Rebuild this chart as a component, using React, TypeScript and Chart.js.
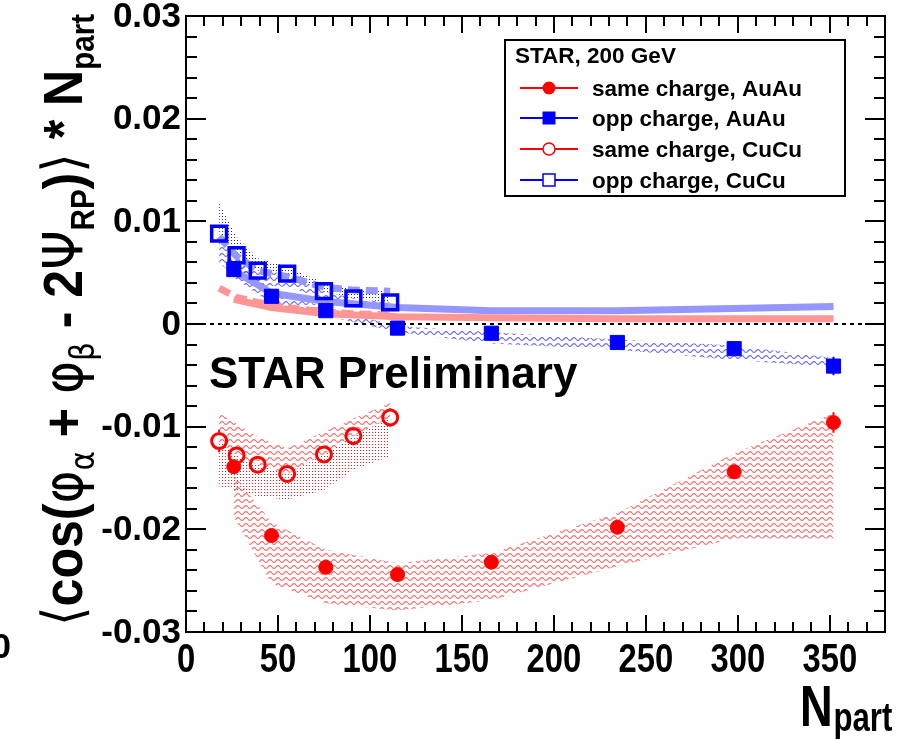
import React, { useEffect, useRef } from 'react';
import { Chart, registerables } from 'chart.js';
Chart.register(...registerables);

const W = 899;
const H = 740;

// ---------- data ----------
const auauNpart = [26, 46.5, 76, 115, 166, 234.5, 298, 352];
const cucuNpart = [18, 27.5, 39, 55, 75, 91, 111];

const sameAuAu = [-0.0139, -0.0206, -0.0237, -0.0244, -0.0232, -0.0198, -0.0144, -0.0096];
const sameAuAuErr = [0.0006, 0.0005, 0.0005, 0.0005, 0.0005, 0.0005, 0.0006, 0.001];
const sameAuAuSysHi = [-0.0147, -0.0193, -0.022, -0.0233, -0.0223, -0.0184, -0.0126, -0.0087];
const sameAuAuSysLo = [-0.0188, -0.0253, -0.0272, -0.0279, -0.0269, -0.0236, -0.0209, -0.0209];

const oppAuAu = [0.0053, 0.0027, 0.0013, -0.0004, -0.0009, -0.0018, -0.0024, -0.0041];
const oppAuAuErr = [0.0004, 0.0003, 0.0003, 0.0003, 0.0003, 0.0004, 0.0005, 0.0009];
const oppAuAuSysHi = [0.007, 0.0033, 0.0016, -0.0002, -0.0008, -0.0015, -0.0021, -0.0033];
const oppAuAuSysLo = [0.0045, 0.002, 0.0008, -0.0008, -0.0019, -0.0025, -0.0035, -0.0042];

const sameCuCu = [-0.0114, -0.0128, -0.0137, -0.0146, -0.0127, -0.0109, -0.0091];
const sameCuCuErr = [0.0011, 0.0008, 0.0008, 0.0008, 0.0008, 0.0009, 0.0009];
const sameCuCuSysHi = [-0.0087, -0.0097, -0.011, -0.0121, -0.0105, -0.0092, -0.0077];
const sameCuCuSysLo = [-0.0158, -0.0162, -0.0168, -0.0171, -0.0162, -0.0142, -0.0129];

const oppCuCu = [0.0088, 0.0067, 0.0052, 0.0049, 0.0032, 0.0025, 0.0021];
const oppCuCuErr = [0.0008, 0.0007, 0.0006, 0.0006, 0.0006, 0.0006, 0.0006];
const oppCuCuSysHi = [0.0118, 0.0085, 0.0064, 0.0056, 0.004, 0.0034, 0.0034];
const oppCuCuSysLo = [0.006, 0.0045, 0.0038, 0.0036, 0.0025, 0.002, 0.0018];

const bkgSameAuAu = [0.0024, 0.0016, 0.001, 0.0007, 0.0006, 0.0005, 0.0005, 0.0005];
const bkgOppAuAu = [0.0052, 0.003, 0.0022, 0.0016, 0.0013, 0.0013, 0.0015, 0.0017];
const bkgSameCuCu = [0.0035, 0.0026, 0.0021, 0.0016, 0.0012, 0.001, 0.0009];
const bkgOppCuCu = [0.0085, 0.0066, 0.0052, 0.0046, 0.0036, 0.0033, 0.0032];

const xTickLabels = ['0', '50', '100', '150', '200', '250', '300', '350'];
const yTickLabels = ['0.03', '0.02', '0.01', '0', '-0.01', '-0.02', '-0.03'];
const legendTitle = 'STAR, 200 GeV';
const legendLabels = ['same charge, AuAu', 'opp charge, AuAu', 'same charge, CuCu', 'opp charge, CuCu'];

// ---------- styles ----------
const RED = '#ff0000';
const BLUE = '#0000ff';
const fontB = (s: number) => `bold ${s}px "Liberation Sans", Arial, sans-serif`;
const fontG = (s: number) => `${s}px "DejaVu Sans", sans-serif`;

const pts = (xs: number[], ys: number[]) => xs.map((x, i) => ({ x, y: ys[i] }));

function makeWavy(color: string) {
  const c = document.createElement('canvas');
  c.width = 8;
  c.height = 6;
  const g = c.getContext('2d')!;
  g.strokeStyle = color;
  g.lineWidth = 1.1;
  g.beginPath();
  for (let i = 0; i <= 8; i += 0.5) {
    const y = 3 + 1.4 * Math.sin((2 * Math.PI * i) / 8);
    if (i === 0) g.moveTo(i, y);
    else g.lineTo(i, y);
  }
  g.stroke();
  return g.createPattern(c, 'repeat')!;
}

function makeDots(color: string) {
  const c = document.createElement('canvas');
  c.width = 3;
  c.height = 3;
  const g = c.getContext('2d')!;
  g.fillStyle = color;
  g.fillRect(0, 0, 1, 1);
  return g.createPattern(c, 'repeat')!;
}

function drawMarker(ctx: CanvasRenderingContext2D, kind: string, x: number, y: number, color: string) {
  ctx.save();
  ctx.fillStyle = color;
  ctx.strokeStyle = color;
  if (kind === 'fc') {
    ctx.beginPath();
    ctx.arc(x, y, 6.5, 0, Math.PI * 2);
    ctx.fill();
  } else if (kind === 'fs') {
    ctx.fillRect(x - 6.5, y - 6.5, 13, 13);
  } else if (kind === 'oc') {
    ctx.lineWidth = 1.5;
    ctx.beginPath();
    ctx.arc(x, y, 6, 0, Math.PI * 2);
    ctx.stroke();
  } else {
    ctx.lineWidth = 1.5;
    ctx.strokeRect(x - 6, y - 6, 12, 12);
  }
  ctx.restore();
}

const decorPlugin = {
  id: 'decor',
  afterDatasetsDraw(chart: any) {
    const ctx: CanvasRenderingContext2D = chart.ctx;
    const ys = chart.scales.y;
    chart.data.datasets.forEach((ds: any, di: number) => {
      if (!ds.errs) return;
      const meta = chart.getDatasetMeta(di);
      ctx.save();
      ctx.strokeStyle = ds.borderColor;
      ctx.lineWidth = 2;
      ds.data.forEach((p: any, i: number) => {
        const el = meta.data[i];
        const cx = el.x;
        const cy = el.y;
        const top = ys.getPixelForValue(p.y + ds.errs[i]);
        const bot = ys.getPixelForValue(p.y - ds.errs[i]);
        const r = ds.markR;
        ctx.beginPath();
        if (cy - top > r) {
          ctx.moveTo(cx, top);
          ctx.lineTo(cx, cy - r);
        }
        if (bot - cy > r) {
          ctx.moveTo(cx, cy + r);
          ctx.lineTo(cx, bot);
        }
        ctx.stroke();
      });
      ctx.restore();
    });
  },
  afterDraw(chart: any) {
    const ctx: CanvasRenderingContext2D = chart.ctx;
    const { left, right, top, bottom } = chart.chartArea;
    const xs = chart.scales.x;
    const ys = chart.scales.y;
    ctx.save();
    ctx.strokeStyle = '#000';
    ctx.fillStyle = '#000';
    ctx.lineWidth = 2;
    ctx.strokeRect(left, top, right - left, bottom - top);

    // x ticks
    ctx.beginPath();
    for (let v = 10; v < 380; v += 10) {
      const px = Math.round(xs.getPixelForValue(v));
      const len = v % 50 === 0 ? 17 : 10;
      ctx.moveTo(px, bottom);
      ctx.lineTo(px, bottom - len);
      ctx.moveTo(px, top);
      ctx.lineTo(px, top + len);
    }
    // y ticks
    for (let k = -28; k <= 28; k += 2) {
      const py = Math.round(ys.getPixelForValue(k / 1000));
      const len = k % 10 === 0 ? 20 : 11;
      ctx.moveTo(left, py);
      ctx.lineTo(left + len, py);
      ctx.moveTo(right, py);
      ctx.lineTo(right - len, py);
    }
    ctx.stroke();

    // y tick labels
    ctx.font = fontB(35);
    ctx.textAlign = 'right';
    ctx.textBaseline = 'middle';
    yTickLabels.forEach((lab) => {
      const py = ys.getPixelForValue(parseFloat(lab));
      ctx.fillText(lab, 181, py + 1);
    });
    // partial label at left edge
    ctx.fillText('0', 11, 648);

    // x tick labels (condensed)
    ctx.textBaseline = 'alphabetic';
    ctx.textAlign = 'center';
    xTickLabels.forEach((lab) => {
      const px = xs.getPixelForValue(parseFloat(lab));
      ctx.save();
      ctx.translate(px, 672);
      ctx.scale(0.82, 1);
      ctx.font = fontB(40);
      ctx.fillText(lab, 0, 0);
      ctx.restore();
    });

    // x title
    ctx.save();
    ctx.textAlign = 'left';
    ctx.translate(800, 726);
    ctx.scale(0.78, 1);
    ctx.font = fontB(58);
    ctx.fillText('N', 0, 0);
    const nw = ctx.measureText('N').width;
    ctx.font = fontB(40);
    ctx.fillText('part', nw + 1, 5);
    ctx.restore();

    // y title
    const segs: [string, string, number][] = [
      ['\u27E8', 'G', 0], ['cos(', 'B', 0], ['\u03C6', 'G', 0], ['\u03B1', 'G', 1], [' + ', 'B', 0],
      ['\u03C6', 'G', 0], ['\u03B2', 'G', 1], [' - ', 'B', 0], ['2', 'B', 0], ['\u03A8', 'G', 0],
      ['RP', 'B', 1], [')', 'B', 0], ['\u27E9', 'G', 0], [' * ', 'B', 0], ['N', 'B', 0], ['part', 'B', 1],
    ];
    const MAIN = 56;
    const SUB = 33;
    const fontFor = (f: string, sub: number) => {
      const s = sub ? SUB : MAIN;
      return f === 'G' ? fontG(s) : fontB(s);
    };
    let total = 0;
    const widths = segs.map(([t, f, sub]) => {
      ctx.font = fontFor(f, sub);
      const w = ctx.measureText(t).width;
      total += w;
      return w;
    });
    const span = 612;
    ctx.save();
    ctx.translate(82, 626);
    ctx.rotate(-Math.PI / 2);
    ctx.scale(span / total, 1);
    ctx.textAlign = 'left';
    let cx = 0;
    segs.forEach(([t, f, sub], i) => {
      ctx.font = fontFor(f, sub);
      ctx.fillText(t, cx, sub ? 12 : 0);
      cx += widths[i];
    });
    ctx.restore();

    // STAR Preliminary
    ctx.textAlign = 'left';
    ctx.font = fontB(44);
    ctx.fillText('STAR Preliminary', 209, 388);

    // legend
    ctx.fillStyle = '#fff';
    ctx.fillRect(505, 40, 340, 156);
    ctx.strokeStyle = '#000';
    ctx.lineWidth = 2;
    ctx.strokeRect(505, 40, 340, 156);
    ctx.fillStyle = '#000';
    ctx.font = fontB(22.5);
    ctx.fillText(legendTitle, 515, 63);
    const rows = [88, 118, 149, 180];
    const kinds = ['fc', 'fs', 'oc', 'os'];
    const cols = [RED, BLUE, RED, BLUE];
    legendLabels.forEach((lab, i) => {
      const y = rows[i];
      ctx.strokeStyle = cols[i];
      ctx.lineWidth = 2;
      ctx.beginPath();
      ctx.moveTo(520, y);
      ctx.lineTo(578, y);
      ctx.stroke();
      if (kinds[i] === 'oc' || kinds[i] === 'os') {
        ctx.fillStyle = '#fff';
        ctx.fillRect(543, y - 6, 12, 12);
      }
      drawMarker(ctx, kinds[i], 549, y, cols[i]);
      ctx.fillStyle = '#000';
      ctx.font = fontB(22.5);
      ctx.fillText(lab, 592, y + 8);
    });
    ctx.restore();
  },
};

export default function App() {
  const ref = useRef<HTMLCanvasElement>(null);
  useEffect(() => {
    const redWavy = makeWavy('rgba(255,60,60,0.8)');
    const redDots = makeDots('rgba(255,0,0,0.9)');
    const blueWavy = makeWavy('rgba(80,80,255,0.9)');
    const blueDots = makeDots('rgba(30,30,255,1)');
    const none = 'rgba(0,0,0,0)';

    const band = (xs: number[], hi: number[], lo: number[], pattern: any) => [
      { data: pts(xs, hi), fill: '+1', backgroundColor: pattern, borderColor: none, borderWidth: 0, pointRadius: 0, order: 10 },
      { data: pts(xs, lo), fill: false, borderColor: none, borderWidth: 0, pointRadius: 0, order: 10 },
    ];
    const thick = (xs: number[], ys: number[], color: string, dash: number[]) => ({
      data: pts(xs, ys), fill: false, borderColor: color, borderWidth: 7, borderDash: dash, pointRadius: 0, order: 5,
    });
    const markers = (xs: number[], ys: number[], errs: number[], color: string, style: string, r: number, filled: boolean, bw: number, markR: number) => ({
      data: pts(xs, ys), errs, markR, showLine: false, fill: false,
      borderColor: color, pointBorderColor: color,
      pointBackgroundColor: filled ? color : none,
      pointStyle: style, pointRadius: r, pointBorderWidth: bw, order: 0,
    });

    const datasets: any[] = [
      ...band(auauNpart, sameAuAuSysHi, sameAuAuSysLo, redWavy),
      ...band(cucuNpart, sameCuCuSysHi, sameCuCu, redWavy),
      ...band(cucuNpart, sameCuCu, sameCuCuSysLo, redDots),
      ...band(auauNpart, oppAuAuSysHi, oppAuAuSysLo, blueWavy),
      ...band(cucuNpart, oppCuCuSysHi, oppCuCu, blueDots),
      ...band(cucuNpart, oppCuCu, oppCuCuSysLo, blueWavy),
      thick(auauNpart, bkgSameAuAu, 'rgb(255,150,150)', []),
      thick(auauNpart, bkgOppAuAu, 'rgb(150,150,255)', []),
      thick(cucuNpart, bkgSameCuCu, 'rgb(255,150,150)', [12, 6]),
      thick(cucuNpart, bkgOppCuCu, 'rgb(150,150,255)', [12, 6]),
      { data: [{ x: 0, y: 0 }, { x: 380, y: 0 }], fill: false, borderColor: '#000', borderWidth: 2, borderDash: [4, 4], pointRadius: 0, order: 3 },
      markers(auauNpart, sameAuAu, sameAuAuErr, RED, 'circle', 7, true, 1, 7),
      markers(auauNpart, oppAuAu, oppAuAuErr, BLUE, 'rect', 10, true, 1, 7),
      markers(cucuNpart, sameCuCu, sameCuCuErr, RED, 'circle', 7.5, false, 3, 8.5),
      markers(cucuNpart, oppCuCu, oppCuCuErr, BLUE, 'rect', 10.5, false, 3.5, 8.5),
    ];

    const chart = new Chart(ref.current!, {
      type: 'line',
      data: { datasets },
      options: {
        responsive: false,
        animation: false,
        devicePixelRatio: 1,
        events: [],
        layout: { padding: { left: 186, right: 12.5, top: 16, bottom: 108 } },
        elements: { line: { tension: 0 } },
        scales: {
          x: { type: 'linear', min: 0, max: 380, display: false },
          y: { type: 'linear', min: -0.03, max: 0.03, display: false },
        },
        plugins: { legend: { display: false }, tooltip: { enabled: false } },
      },
      plugins: [decorPlugin],
    } as any);
    return () => chart.destroy();
  }, []);
  return (
    <div style={{ position: 'fixed', left: 0, top: 0, width: W, height: H, background: '#fff' }}>
      <canvas ref={ref} width={W} height={H} style={{ width: W, height: H, display: 'block' }} />
    </div>
  );
}
